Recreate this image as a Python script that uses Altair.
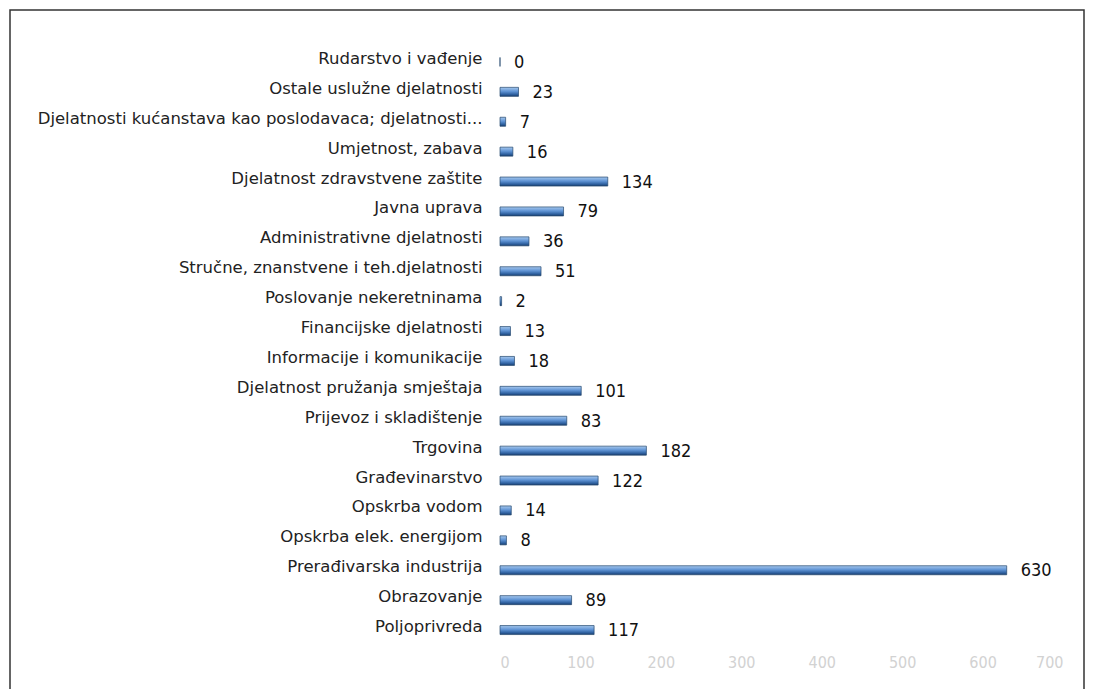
import altair as alt
import pandas as pd

categories = [
    "Rudarstvo i vađenje",
    "Ostale uslužne djelatnosti",
    "Djelatnosti kućanstava kao poslodavaca; djelatnosti...",
    "Umjetnost, zabava",
    "Djelatnost zdravstvene zaštite",
    "Javna uprava",
    "Administrativne djelatnosti",
    "Stručne, znanstvene i teh.djelatnosti",
    "Poslovanje nekeretninama",
    "Financijske djelatnosti",
    "Informacije i komunikacije",
    "Djelatnost pružanja smještaja",
    "Prijevoz i skladištenje",
    "Trgovina",
    "Građevinarstvo",
    "Opskrba vodom",
    "Opskrba elek. energijom",
    "Prerađivarska industrija",
    "Obrazovanje",
    "Poljoprivreda",
]
values = [0, 23, 7, 16, 134, 79, 36, 51, 2, 13, 18, 101, 83, 182, 122, 14, 8, 630, 89, 117]
x_ticks = [0, 100, 200, 300, 400, 500, 600, 700]

df = pd.DataFrame({"cat": categories, "val": values})

CAT_FONT = "DejaVu Sans"
NUM_FONT = "DejaVu Sans Condensed"

base = alt.Chart(df).encode(
    y=alt.Y(
        "cat:N",
        sort=categories,
        scale=alt.Scale(paddingInner=0.3, paddingOuter=0.15),
        axis=alt.Axis(
            title=None, ticks=False, domain=False, grid=False,
            labelFont=CAT_FONT, labelFontSize=16.5, labelColor="#222222",
            labelPadding=18, labelLimit=800, labelOffset=-3,
        ),
    ),
    x=alt.X(
        "val:Q",
        scale=alt.Scale(domain=[0, 700], nice=False),
        axis=alt.Axis(
            values=x_ticks, title=None, ticks=False, domain=False, grid=False,
            labelFont=NUM_FONT, labelFontSize=16, labelColor="#d2d2d2",
            labelPadding=9,
        ),
    ),
)

grad = alt.Gradient(
    gradient="linear",
    stops=[
        alt.GradientStop(color="#a6c8ee", offset=0),
        alt.GradientStop(color="#5f93d4", offset=0.45),
        alt.GradientStop(color="#2d5f9e", offset=0.8),
        alt.GradientStop(color="#1c3f6e", offset=1),
    ],
    x1=0, x2=0, y1=0, y2=1,
)

bars = base.mark_bar(size=9, fill=grad, stroke="#24476f", strokeWidth=0.7)

labels = base.mark_text(
    align="left", baseline="middle", dx=14, dy=1,
    font=NUM_FONT, fontSize=18, color="#111111",
).encode(text="val:Q")

frame = alt.Chart(pd.DataFrame({"f": [0]})).mark_rect(
    filled=False, stroke="#333333", strokeWidth=1.5
).encode(
    x=alt.value(-490), x2=alt.value(584),
    y=alt.value(-37), y2=alt.value(680),
)

chart = alt.layer(frame, bars, labels).properties(
    width=563, height=598,
    background="white",
    autosize=alt.AutoSizeParams(type="none"),
    padding={"left": 492, "top": 39, "right": 22, "bottom": 44},
).configure_view(stroke=None)

chart.save("out.html", embed_options={"renderer": "svg", "actions": False})
